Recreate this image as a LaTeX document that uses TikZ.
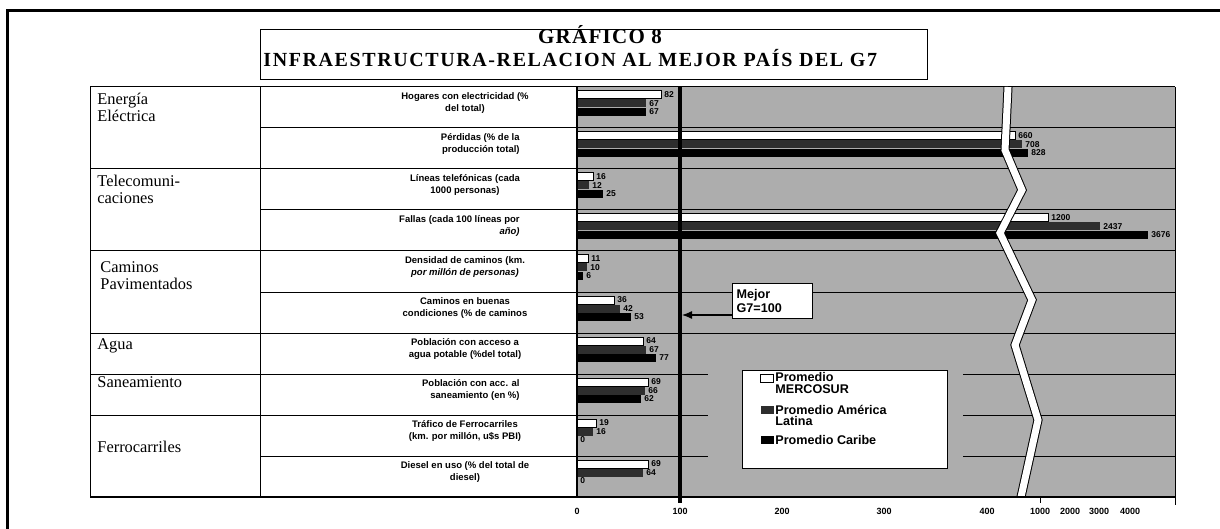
\documentclass[tikz,border=0pt]{standalone}
\usepackage{fontspec}
\setmainfont{Liberation Serif}
\newfontfamily\arialfont{Liberation Sans}
\newfontfamily\spacedserif[LetterSpace=8]{Liberation Serif}
\newfontfamily\gtitlefont[LetterSpace=6]{Liberation Serif}
\usetikzlibrary{arrows.meta}

\begin{document}
\begin{tikzpicture}[x=0.5pt,y=-0.5pt,
    framerule/.style={line width=1.5pt},
    gridrule/.style={line width=0.5pt},
    cattext/.style={anchor=west,align=left,inner sep=0pt,font=\fontsize{8.2}{8.5}\selectfont},
    itemtext/.style={align=center,inner sep=0pt,font=\arialfont\bfseries\fontsize{4.75}{6}\selectfont},
    valtext/.style={anchor=west,inner sep=0pt,font=\arialfont\bfseries\fontsize{4.25}{5}\selectfont},
    axistext/.style={inner sep=0pt,font=\arialfont\bfseries\fontsize{4.5}{5}\selectfont},
    legtext/.style={anchor=west,align=left,inner sep=0pt,font=\arialfont\bfseries\fontsize{6.3}{5.8}\selectfont},
    swatch/.style={inner sep=0pt,minimum width=6.5pt,minimum height=4pt},
    mercobar/.style={draw=black,fill=white,line width=0.5pt},
    latambar/.style={fill=black!82},
    caribbar/.style={fill=black},
  ]
  \useasboundingbox (0,0) rectangle (1220,529);

  % chart background and row lines
  \fill[black!32] (577,87) rectangle (1175,497);
  \foreach \y in {87,128,...,333}
    \draw[gridrule] (577,\y) -- (1175,\y);
  \foreach \y in {374,415,456} {
    \draw[gridrule] (577,\y) -- (708,\y);
    \draw[gridrule] (963,\y) -- (1175,\y);
  }

  % bars: row top / bar ends / values
  \foreach \t/\ea/\eb/\ec/\va/\vb/\vc in {
      87/661/646/646/82/67/67,
      128/1015/1022/1028/660/708/828,
      169/593/589/603/16/12/25,
      210/1048/1100/1148/1200/2437/3676,
      251/588/587/583/11/10/6,
      292/614/620/631/36/42/53,
      333/643/646/656/64/67/77,
      374/648/645/641/69/66/62,
      415/596/593/577/19/16/0,
      456/648/643/577/69/64/0} {
    \fill[latambar] (577,\t+12.5) rectangle (\eb,\t+20.5);
    \fill[caribbar] (577,\t+21) rectangle (\ec,\t+29);
    \draw[mercobar] (577,\t+4) rectangle (\ea,\t+12);
    \node[valtext] (va\t) at (\ea+3,\t+8) {\va};
    \node[valtext] (vb\t) at (\eb+3,\t+16.5) {\vb};
    \node[valtext] (vc\t) at (\ec+3,\t+25) {\vc};
  }

  % axis break
  \draw[line width=0.5pt,double=white,double distance=3.5pt]
    (1008,87) -- (1005,150) -- (1022,190) -- (1000,233) -- (1032,300)
    -- (1015,345) -- (1038,420) -- (1021,497);

  % best G7 = 100
  \draw[line width=1.8pt] (680,87) -- (680,503);

  % chart frame
  \draw[line width=1pt] (577,87) -- (577,497);
  \draw[gridrule] (1175,87) -- (1175,505);
  \draw[line width=1pt] (90,497) -- (1175,497);
  \draw[gridrule] (1040,497) -- (1040,503);

  \foreach \x/\lab in {577/0,680/100,782/200,884/300,987/400,1040/1000,1070/2000,1099/3000,1130/4000}
    \node[axistext] (ax\lab) at (\x,511) {\lab};

  % table
  \foreach \y in {87,169,251,333,374,415}
    \draw[gridrule] (90,\y) -- (577,\y);
  \foreach \y in {128,210,292,456}
    \draw[gridrule] (260,\y) -- (577,\y);
  \draw[gridrule] (90,87) -- (90,497);
  \draw[gridrule] (260,87) -- (260,497);

  \node[cattext] (energia) at (97,107) {Energía\\Eléctrica};
  \node[cattext] (telecom) at (97,189) {Telecomuni-\\caciones};
  \node[cattext] (caminos) at (100,275.5) {Caminos\\Pavimentados};
  \node[cattext] (agua) at (97,346) {Agua};
  \node[cattext] (saneamiento) at (97,382) {Saneamiento};
  \node[cattext] (ferro) at (97,447) {Ferrocarriles};

  \node[itemtext] (hogares) at (465,103) {Hogares con electricidad (\%\\del total)};
  \node[itemtext,align=right,anchor=east] (perdidas) at (520,144) {Pérdidas (\% de la\\producción total)};
  \node[itemtext] (lineas) at (465,185) {Líneas telefónicas (cada\\1000 personas)};
  \node[itemtext,align=right,anchor=east] (fallas) at (520,226) {Fallas (cada 100 líneas por\\\textit{año)}};
  \node[itemtext] (densidad) at (465,267) {Densidad de caminos (km.\\\textit{por millón de personas)}};
  \node[itemtext] (buenas) at (465,308) {Caminos en buenas\\condiciones (\% de caminos};
  \node[itemtext] (potable) at (465,349) {Población con acceso a\\agua potable (\%del total)};
  \node[itemtext,align=right,anchor=east] (sanitem) at (520,390) {Población con acc. al\\saneamiento (en \%)};
  \node[itemtext] (trafico) at (465,431) {Tráfico de Ferrocarriles\\(km. por millón, u\$s PBI)};
  \node[itemtext] (diesel) at (465,472) {Diesel en uso (\% del total de\\diesel)};

  % legend
  \node[draw,fill=white,line width=0.5pt,anchor=north west,inner sep=0pt,
        minimum width=102.5pt,minimum height=49pt] (legend) at (742,370) {};
  \node[swatch,mercobar] (swmerco) at (767,378) {};
  \node[legtext] (lgmerco) at (775,383) {Promedio\\MERCOSUR};
  \node[swatch,latambar] (swlatam) at (767,410) {};
  \node[legtext] (lglatam) at (775,415.5) {Promedio América\\Latina};
  \node[swatch,caribbar] (swcarib) at (767,440) {};
  \node[legtext] (lgcarib) at (775,440) {Promedio Caribe};

  % Mejor G7 note
  \node[draw,fill=white,line width=0.6pt,anchor=north west,align=left,
        inner xsep=2pt,inner ysep=0pt,text width=36pt,minimum height=17.5pt,
        font=\arialfont\bfseries\fontsize{6.3}{7}\selectfont] (mejor) at (732,283) {Mejor\\G7=100};
  \coordinate (g7line) at (682,315);
  \draw[line width=0.6pt,-{Latex[length=5pt,width=4pt]}] (mejor.west |- g7line) -- (g7line);

  % title
  \draw[gridrule] (260,30) rectangle (927,80);
  \node[anchor=base,inner sep=0pt,font=\gtitlefont\bfseries\fontsize{10.5}{11}\selectfont] (grafico) at (600,44) {GRÁFICO 8};
  \node[anchor=base west,inner sep=0pt,font=\spacedserif\bfseries\fontsize{10}{11}\selectfont] (infra) at (263,67) {INFRAESTRUCTURA-RELACION AL MEJOR PAÍS DEL G7};

  % outer frame
  \draw[framerule] (7,529) -- (7,11) -- (1220,11);
\end{tikzpicture}
\end{document}
